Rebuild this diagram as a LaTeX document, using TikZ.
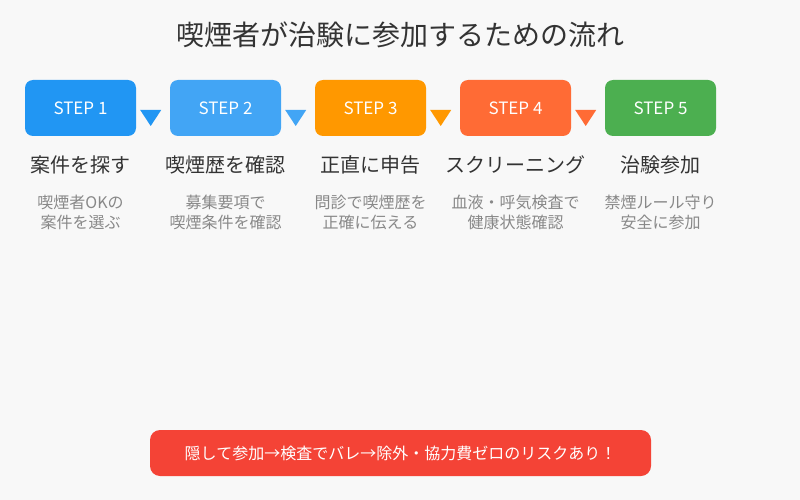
\documentclass[tikz,border=0pt]{standalone}
\usepackage{fontspec}
\setmainfont{Noto Sans CJK JP}
\definecolor{bg}{HTML}{F8F8F8}
\definecolor{cA}{HTML}{2196F3}
\definecolor{cB}{HTML}{42A5F5}
\definecolor{cC}{HTML}{FF9800}
\definecolor{cD}{HTML}{FF6B35}
\definecolor{cE}{HTML}{4CAF50}
\definecolor{ttl}{HTML}{333333}
\definecolor{desc}{HTML}{888888}
\definecolor{warn}{HTML}{F44336}
\begin{document}
\begin{tikzpicture}[x=1pt,y=-1pt,
  stepbox/.style={rounded corners=8pt,minimum width=111pt,minimum height=56pt,inner sep=0pt,text=white,font=\fontsize{17}{17}\selectfont},
  steptitle/.style={text=ttl,font=\fontsize{20}{20}\selectfont,inner sep=0pt},
  stepdesc/.style={text=desc,font=\fontsize{16}{20}\selectfont,align=center,inner sep=0pt},
  tri/.style={inner sep=0pt}]
\fill[bg] (0,0) rectangle (800,500);
\useasboundingbox (0,0) rectangle (800,500);
\node[text=ttl,font=\fontsize{28}{28}\selectfont] (title) at (400,35) {喫煙者が治験に参加するための流れ};
\foreach \i/\x/\c/\t/\d in {1/80.5/cA/案件を探す/喫煙者OKの\\案件を選ぶ,
  2/225.5/cB/喫煙歴を確認/募集要項で\\喫煙条件を確認,
  3/370.5/cC/正直に申告/問診で喫煙歴を\\正確に伝える,
  4/515.5/cD/スクリーニング/血液・呼気検査で\\健康状態確認,
  5/660.5/cE/治験参加/禁煙ルール守り\\安全に参加}{
  \node[stepbox,fill=\c] (s\i) at (\x,108) {STEP \i};
  \node[steptitle] (t\i) at (\x,165) {\t};
  \node[stepdesc] (d\i) at (\x,212) {\d};
}
\foreach \i/\c in {1/cA,2/cB,3/cC,4/cD}{
  \coordinate (a\i) at ([xshift=4pt,yshift=-1pt]s\i.east);
  \fill[\c] ([yshift=-1pt]a\i) -- ++(21,0) -- ++(-10.5,16) -- cycle;
}
\node[fill=warn,rounded corners=10pt,minimum width=501pt,minimum height=46pt,inner sep=0pt,text=white,font=\fontsize{16}{16}\selectfont] (warnbox) at (400.5,453) {隠して参加→検査でバレ→除外・協力費ゼロのリスクあり！};
\end{tikzpicture}
\end{document}
